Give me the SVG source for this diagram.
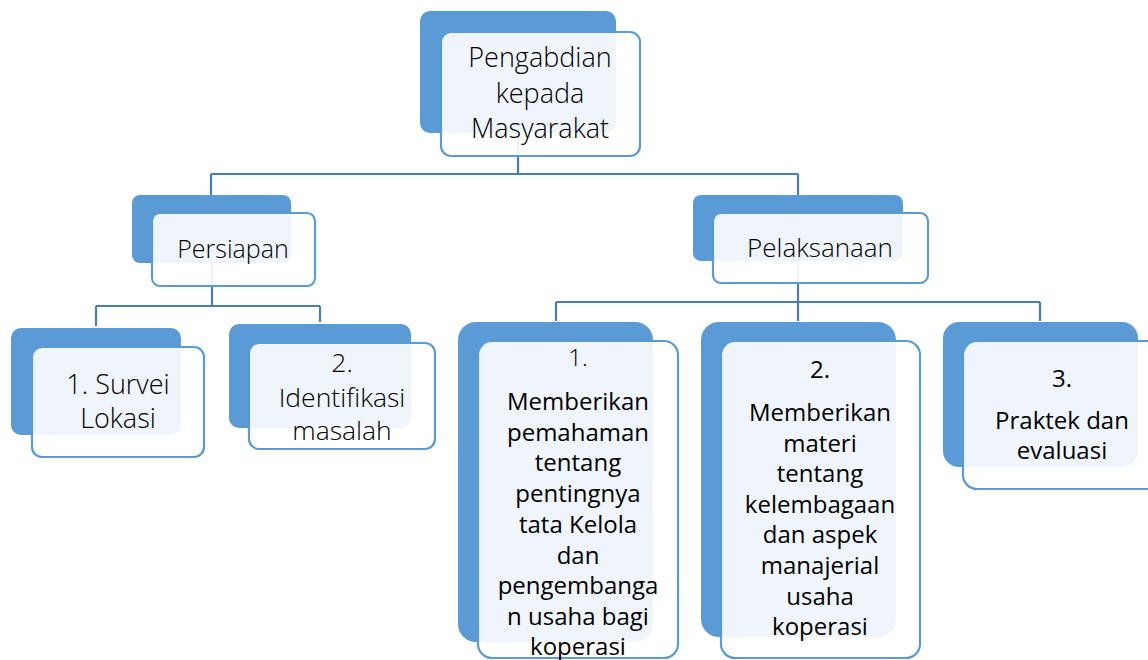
<svg xmlns="http://www.w3.org/2000/svg" width="1148" height="660" viewBox="0 0 1148 660">
<style>
.back{fill:#5B9BD5}
.front{fill:#ffffff;fill-opacity:0.9;stroke:#5B9BD5;stroke-width:2.2}
.conn{fill:none;stroke:#4A7EBB;stroke-width:2.2}
.t1{font-family:"Open Sans","DejaVu Sans",sans-serif;font-weight:300;fill:#000;text-anchor:middle}
.t2{font-family:"Open Sans","DejaVu Sans",sans-serif;font-weight:400;fill:#000;text-anchor:middle;font-size:24px}
</style>
<rect width="1148" height="660" fill="#ffffff"/>
<g id="connectors">
<path class="conn" d="M518 133 V174 M211 174 H798 M211 174 V195 M798 174 V195"/>
<path class="conn" d="M212 263 V306 M96 306 H320 M96 306 V326 M320 306 V322"/>
<path class="conn" d="M798 261 V302 M556 302 H1040 M556 302 V321 M798 302 V321 M1040 302 V321"/>
</g>
<g id="node-root">
<rect class="back" x="420" y="11" width="196" height="122" rx="10"/>
<rect class="front" x="441" y="32" width="199" height="124" rx="10"/>
<text class="t1" font-size="27" x="540" y="67">Pengabdian</text>
<text class="t1" font-size="27" x="540" y="103">kepada</text>
<text class="t1" font-size="27" x="540" y="138">Masyarakat</text>
</g>
<g id="node-persiapan">
<rect class="back" x="132" y="195" width="159" height="68" rx="8"/>
<rect class="front" x="152" y="213" width="163" height="73" rx="8"/>
<text class="t1" font-size="25" x="233" y="258">Persiapan</text>
</g>
<g id="node-pelaksanaan">
<rect class="back" x="693" y="195" width="210" height="66" rx="8"/>
<rect class="front" x="713" y="213" width="215" height="70" rx="8"/>
<text class="t1" font-size="26" x="820" y="257">Pelaksanaan</text>
</g>
<g id="node-survei">
<rect class="back" x="11" y="328" width="170" height="107" rx="10"/>
<rect class="front" x="32" y="347" width="172" height="110" rx="10"/>
<text class="t1" font-size="27" x="118" y="394">1. Survei</text>
<text class="t1" font-size="27" x="118" y="428">Lokasi</text>
</g>
<g id="node-identifikasi">
<rect class="back" x="229" y="324" width="182" height="104" rx="10"/>
<rect class="front" x="249" y="343" width="186" height="106" rx="10"/>
<text class="t1" font-size="26.5" x="342" y="372">2.</text>
<text class="t1" font-size="26.5" x="342" y="407">Identifikasi</text>
<text class="t1" font-size="26.5" x="342" y="440">masalah</text>
</g>
<g id="node-p1">
<rect class="back" x="458" y="322" width="195" height="320" rx="18"/>
<rect class="front" x="478" y="341" width="200" height="317" rx="14"/>
<text class="t1" font-size="24" x="578" y="366">1.</text>
<text class="t2" x="578" y="410">Memberikan</text>
<text class="t2" x="578" y="440.7">pemahaman</text>
<text class="t2" x="578" y="471.4">tentang</text>
<text class="t2" x="578" y="502.1">pentingnya</text>
<text class="t2" x="578" y="532.8">tata Kelola</text>
<text class="t2" x="578" y="563.5">dan</text>
<text class="t2" x="578" y="594.2">pengembanga</text>
<text class="t2" x="578" y="624.9">n usaha bagi</text>
<text class="t2" x="578" y="655">koperasi</text>
</g>
<g id="node-p2">
<rect class="back" x="701" y="322" width="195" height="315" rx="18"/>
<rect class="front" x="721" y="341" width="199" height="317" rx="14"/>
<text class="t2" x="820" y="378">2.</text>
<text class="t2" x="820" y="421">Memberikan</text>
<text class="t2" x="820" y="451.6">materi</text>
<text class="t2" x="820" y="482.2">tentang</text>
<text class="t2" x="820" y="512.8">kelembagaan</text>
<text class="t2" x="820" y="543.4">dan aspek</text>
<text class="t2" x="820" y="574">manajerial</text>
<text class="t2" x="820" y="604.6">usaha</text>
<text class="t2" x="820" y="635.2">koperasi</text>
</g>
<g id="node-p3">
<rect class="back" x="943" y="322" width="195" height="145" rx="16"/>
<rect class="front" x="963" y="341" width="198" height="148" rx="14"/>
<text class="t2" x="1062" y="387">3.</text>
<text class="t2" x="1062" y="429">Praktek dan</text>
<text class="t2" x="1062" y="459">evaluasi</text>
</g>
</svg>
